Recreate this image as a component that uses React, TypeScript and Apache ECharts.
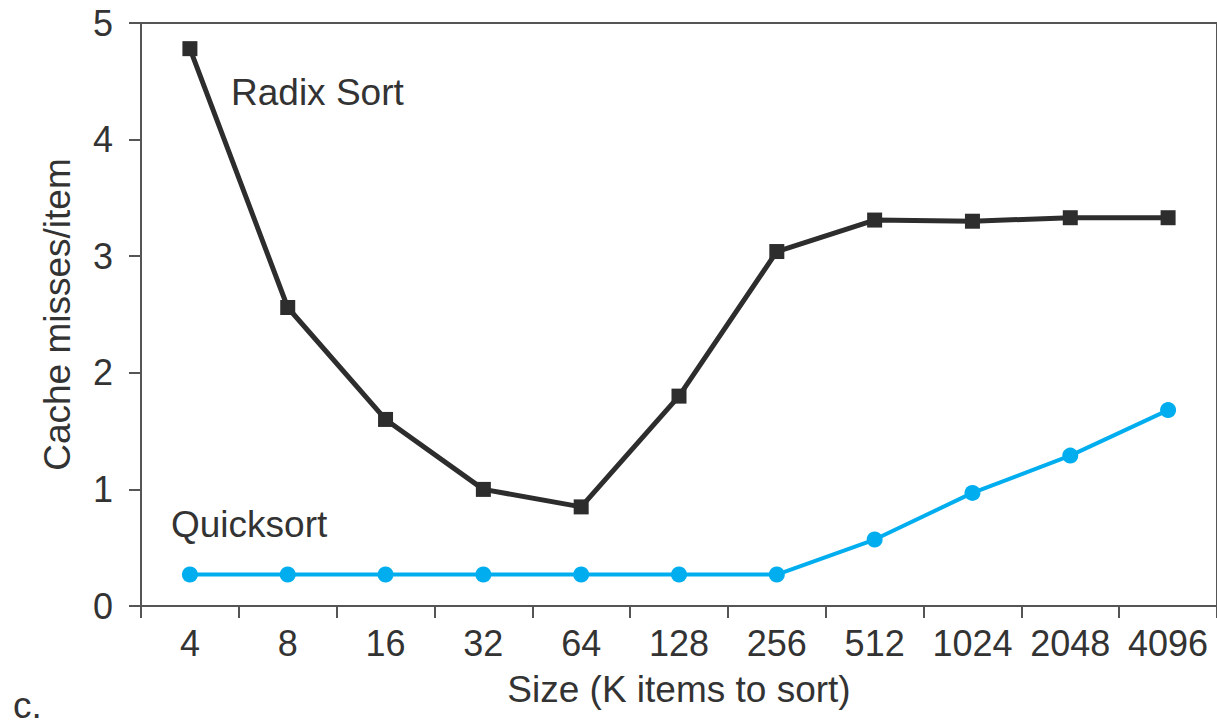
import React, { useEffect, useRef } from "react";
import * as echarts from "echarts";

const categories = ["4", "8", "16", "32", "64", "128", "256", "512", "1024", "2048", "4096"];
const radixSort = [4.78, 2.56, 1.6, 1.0, 0.85, 1.8, 3.04, 3.31, 3.3, 3.33, 3.33];
const quickSort = [0.27, 0.27, 0.27, 0.27, 0.27, 0.27, 0.27, 0.57, 0.97, 1.29, 1.68];
const yTicks = [0, 1, 2, 3, 4, 5];

const FONT = "'Liberation Sans', Arial, Helvetica, sans-serif";
const TXT = "#333333";

export default function App() {
  const ref = useRef<HTMLDivElement>(null);
  useEffect(() => {
    if (!ref.current) return;
    const chart = echarts.init(ref.current, undefined, { renderer: "svg" });
    chart.setOption({
      animation: false,
      backgroundColor: "#ffffff",
      textStyle: { fontFamily: FONT },
      grid: {
        left: 141,
        right: -2,
        top: 23,
        bottom: 118,
        show: true,
        borderColor: "#555555",
        borderWidth: 2,
        backgroundColor: "transparent",
      },
      xAxis: {
        type: "category",
        data: categories,
        boundaryGap: true,
        name: "Size (K items to sort)",
        nameLocation: "middle",
        nameGap: 65,
        nameTextStyle: { fontSize: 37, color: TXT, fontFamily: FONT },
        axisLine: { lineStyle: { color: "#555555", width: 2 } },
        axisTick: { show: true, length: 12, lineStyle: { color: "#555555", width: 2 }, alignWithLabel: false },
        axisLabel: { fontSize: 36, color: TXT, margin: 19, fontFamily: FONT, interval: 0 },
        splitLine: { show: false },
      },
      yAxis: {
        type: "value",
        min: 0,
        max: 5,
        interval: 1,
        name: "Cache misses/item",
        nameLocation: "middle",
        nameGap: 65,
        nameTextStyle: { fontSize: 37, color: TXT, fontFamily: FONT },
        axisLine: { show: true, lineStyle: { color: "#555555", width: 2 } },
        axisTick: { show: true, length: 12, lineStyle: { color: "#555555", width: 2 } },
        axisLabel: {
          fontSize: 36,
          color: TXT,
          margin: 28,
          fontFamily: FONT,
          formatter: (v: number) => (yTicks.includes(v) ? String(v) : ""),
        },
        splitLine: { show: false },
      },
      series: [
        {
          name: "Radix Sort",
          type: "line",
          data: radixSort,
          symbol: "rect",
          symbolSize: 15,
          lineStyle: { color: "#2d2d2d", width: 5 },
          itemStyle: { color: "#2d2d2d" },
          z: 3,
        },
        {
          name: "Quicksort",
          type: "line",
          data: quickSort,
          symbol: "circle",
          symbolSize: 16,
          lineStyle: { color: "#00aeef", width: 4 },
          itemStyle: { color: "#00aeef" },
          z: 2,
        },
      ],
      graphic: [
        {
          type: "text",
          x: 231,
          y: 92,
          style: { text: "Radix Sort", fontSize: 37, fill: TXT, fontFamily: FONT, verticalAlign: "middle" },
        },
        {
          type: "text",
          x: 171,
          y: 524,
          style: { text: "Quicksort", fontSize: 37, fill: TXT, fontFamily: FONT, verticalAlign: "middle" },
        },
        {
          type: "text",
          x: 13,
          y: 705,
          style: { text: "c.", fontSize: 37, fill: TXT, fontFamily: FONT, verticalAlign: "middle" },
        },
      ],
    });
    return () => chart.dispose();
  }, []);
  return (
    <div
      ref={ref}
      style={{ position: "fixed", left: 0, top: 0, width: 1217, height: 724, background: "#fff" }}
    />
  );
}
